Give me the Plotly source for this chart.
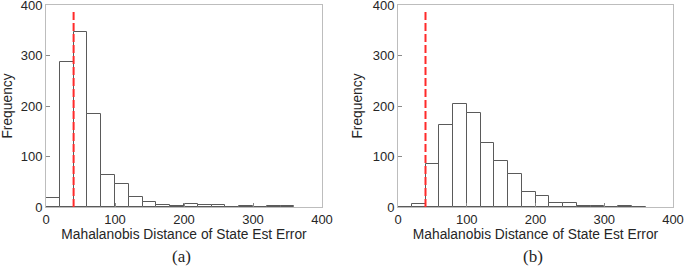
import plotly.graph_objects as go

bin_edges = list(range(0, 380, 20))
bin_width = 20
counts_a = [17, 287, 346, 184, 64, 45, 19, 9, 3, 2, 5, 3, 3, 0, 1, 0, 1, 1]
counts_b = [0, 5, 86, 163, 203, 186, 126, 92, 66, 29, 21, 8, 8, 1, 2, 0, 1, 0]
threshold_x = [40, 40]
threshold_y = [0, 390]
x_ticks = [0, 100, 200, 300, 400]
y_ticks = [0, 100, 200, 300, 400]
x_title = "Mahalanobis Distance of State Est Error"
y_title = "Frequency"
captions = ["(a)", "(b)"]

W, H = 685, 272
fig = go.Figure()

panels = [
    (counts_a, "x", "y", (46, 322)),
    (counts_b, "x2", "y2", (398, 673)),
]
centers = [e + bin_width / 2 for e in bin_edges[:len(counts_a)]]

font_sans = "Liberation Sans, Arial, sans-serif"
for counts, xa, ya, _ in panels:
    fig.add_trace(go.Bar(
        x=centers, y=counts, width=bin_width, xaxis=xa, yaxis=ya,
        marker=dict(color="white", line=dict(color="#5a5a5a", width=1)),
        showlegend=False, hoverinfo="skip"))
    fig.add_trace(go.Scatter(
        x=threshold_x, y=threshold_y, xaxis=xa, yaxis=ya, mode="lines",
        line=dict(color="#ff2a2a", width=2, dash="8px,3px"),
        showlegend=False, hoverinfo="skip"))

y_dom = [1 - 207 / H, 1 - 5 / H]
axis_common = dict(
    showline=True, mirror=True, linecolor="#bdbdbd", linewidth=1,
    ticks="inside", ticklen=4, tickcolor="#8a8a8a", showgrid=False,
    zeroline=False, automargin=False, ticklabeloverflow="allow",
    tickfont=dict(family=font_sans, size=13, color="#262626"),
)
layout = dict(
    width=W, height=H, margin=dict(l=0, r=0, t=0, b=0, autoexpand=False),
    paper_bgcolor="white", plot_bgcolor="white", bargap=0,
)
for i, (counts, xa, ya, (x0, x1)) in enumerate(panels):
    xk = "xaxis" if i == 0 else "xaxis2"
    yk = "yaxis" if i == 0 else "yaxis2"
    layout[xk] = dict(axis_common, domain=[x0 / W, x1 / W], range=[0, 400],
                      tickvals=x_ticks, anchor=ya,
                      title=dict(text=x_title, standoff=3,
                                 font=dict(family=font_sans, size=13.8, color="#262626")))
    layout[yk] = dict(axis_common, domain=y_dom, range=[0, 400],
                      tickvals=y_ticks, anchor=xa,
                      title=dict(text=y_title, standoff=6,
                                 font=dict(family=font_sans, size=13.8, color="#262626")))
fig.update_layout(**layout)

for cap, (_, _, _, (x0, x1)) in zip(captions, panels):
    fig.add_annotation(text=cap, x=(x0 + x1) / 2 / W - 0.004, y=1 - 256 / H,
                       xref="paper", yref="paper", showarrow=False,
                       xanchor="center", yanchor="middle",
                       font=dict(family="Liberation Serif, serif", size=17, color="#262626"))

fig.write_html("out.html", config={"displayModeBar": False},
               post_script="document.body.style.margin='0';document.body.style.overflow='hidden';")
